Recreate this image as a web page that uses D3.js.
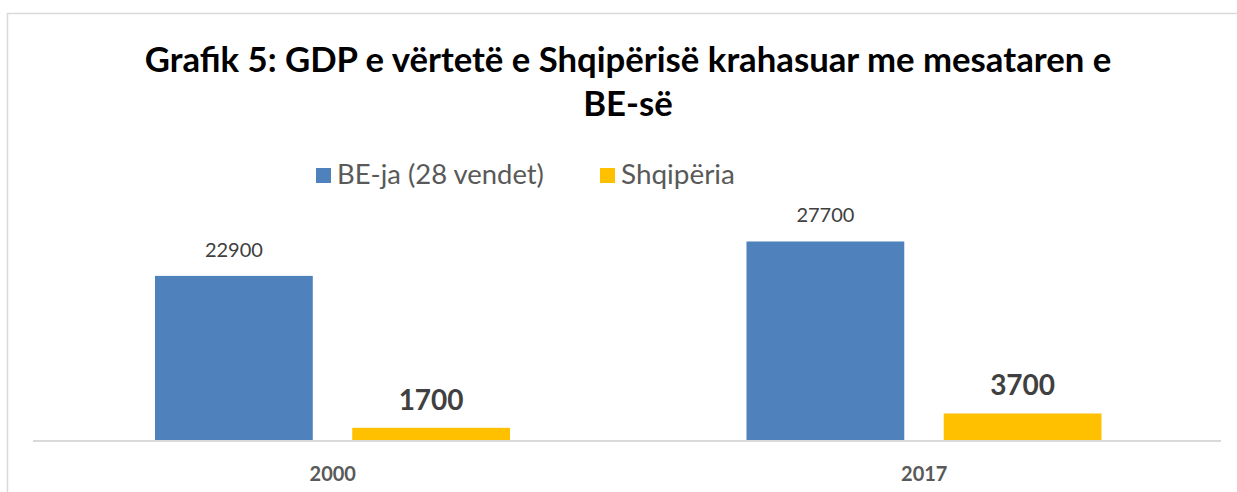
<!DOCTYPE html>
<html>
<head>
<meta charset="utf-8">
<script src="https://cdn.jsdelivr.net/npm/d3@7"></script>
<style>
  body { margin: 0; background: #fff; }
  svg { display: block; font-family: Lato, "Open Sans", sans-serif; }
</style>
</head>
<body>
<svg width="1237" height="492"></svg>
<script>
const categories = ["2000", "2017"];
const seriesNames = ["BE-ja (28 vendet)", "Shqipëria"];
const euValues = [22900, 27700];
const albValues = [1700, 3700];
const colors = ["#4f81bd", "#ffc000"];

const svg = d3.select("svg");

// size a text so it spans the given width (Calibri isn't available)
function fitWidth(sel, target) {
    const base = +sel.attr("font-size");
    const w = sel.node().getComputedTextLength();
    sel.attr("font-size", base * target / w);
    return base * target / w;
}

// chart frame
svg.append("rect")
    .attr("x", 7.5).attr("y", 13.5)
    .attr("width", 1260).attr("height", 500)
    .attr("fill", "none")
    .attr("stroke", "#d9d9d9")
    .attr("stroke-width", 1.5);

const title1 = svg.append("text")
    .attr("x", 628).attr("y", 72)
    .attr("text-anchor", "middle")
    .attr("font-weight", "bold")
    .attr("font-size", 30)
    .attr("fill", "#000")
    .text("Grafik 5: GDP e vërtetë e Shqipërisë krahasuar me mesataren e");
const titleSize = fitWidth(title1, 967);

svg.append("text")
    .attr("x", 628).attr("y", 116)
    .attr("text-anchor", "middle")
    .attr("font-weight", "bold")
    .attr("font-size", titleSize)
    .attr("fill", "#000")
    .text("BE-së");

// scales
const x0 = d3.scaleBand().domain(categories).range([37, 1220]).paddingInner(0).paddingOuter(0);
const x1 = d3.scaleBand().domain([0, 1]).range([118, 473]).paddingInner(0.2);
const y = d3.scaleLinear().domain([0, 30000]).range([440, 225]);

// legend
const legendX = [316, 600];
const legendW = [207, 114];
seriesNames.forEach((name, i) => {
    svg.append("rect")
        .attr("x", legendX[i]).attr("y", 168)
        .attr("width", 15).attr("height", 15)
        .attr("fill", colors[i]);
    const t = svg.append("text")
        .attr("x", legendX[i] + 21).attr("y", 184)
        .attr("font-size", 22)
        .attr("fill", "#595959")
        .text(name);
    fitWidth(t, legendW[i]);
});

const data = categories.map((c, i) => ({ cat: c, vals: [euValues[i], albValues[i]] }));

const groups = svg.selectAll(".grp")
    .data(data)
    .enter()
    .append("g")
    .attr("class", "grp")
    .attr("transform", d => `translate(${x0(d.cat)},0)`);

groups.selectAll("rect")
    .data(d => d.vals.map((v, i) => ({ v, i })))
    .enter()
    .append("rect")
    .attr("x", d => x1(d.i))
    .attr("y", d => y(d.v))
    .attr("width", x1.bandwidth())
    .attr("height", d => y(0) - y(d.v))
    .attr("fill", d => colors[d.i]);

groups.selectAll(".lbl")
    .data(d => d.vals.map((v, i) => ({ v, i })))
    .enter()
    .append("text")
    .attr("class", "lbl")
    .attr("x", d => x1(d.i) + x1.bandwidth() / 2)
    .attr("y", d => d.i === 0 ? y(d.v) - 19 : y(d.v) - 18)
    .attr("text-anchor", "middle")
    .attr("font-size", d => d.i === 0 ? 20 : 28)
    .attr("font-weight", d => d.i === 0 ? "normal" : "bold")
    .attr("fill", "#404040")
    .text(d => d.v);

// baseline
svg.append("line")
    .attr("x1", 33).attr("x2", 1221)
    .attr("y1", y(0) + 1).attr("y2", y(0) + 1)
    .attr("stroke", "#d9d9d9")
    .attr("stroke-width", 2);

// category axis labels
svg.selectAll(".cat")
    .data(categories)
    .enter()
    .append("text")
    .attr("class", "cat")
    .attr("x", d => x0(d) + x0.bandwidth() / 2)
    .attr("y", 481)
    .attr("text-anchor", "middle")
    .attr("font-size", 20)
    .attr("font-weight", "bold")
    .attr("fill", "#595959")
    .text(d => d);
</script>
</body>
</html>
